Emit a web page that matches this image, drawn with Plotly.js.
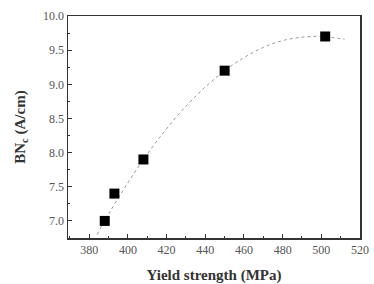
<!DOCTYPE html>
<html><head><meta charset="utf-8">
<script src="https://cdn.plot.ly/plotly-3.0.1.min.js"></script>
<style>html,body{margin:0;padding:0;background:#fff}</style>
</head><body><div id="chart" style="width:374px;height:284px"></div>
<script>
const yieldStrength = [388, 393, 408, 450, 502];
const bnc = [7.0, 7.4, 7.9, 9.2, 9.7];
const fitX = [384, 390, 400, 410, 420, 430, 440, 450, 460, 470, 480, 490, 500, 512];
const fitY = [6.80, 7.10, 7.56, 7.98, 8.35, 8.68, 8.96, 9.20, 9.39, 9.54, 9.64, 9.69, 9.70, 9.66];
const xTicks = [380, 400, 420, 440, 460, 480, 500, 520];
const yTicks = [7.0, 7.5, 8.0, 8.5, 9.0, 9.5, 10.0];

const traces = [
  {x: fitX, y: fitY, mode: 'lines', line: {color: '#999', width: 1, dash: 'dot', shape: 'spline'}, hoverinfo: 'skip'},
  {x: yieldStrength, y: bnc, mode: 'markers', marker: {symbol: 'square', size: 10, color: '#000'}}
];
const axisCommon = {
  showgrid: false, zeroline: false, showline: true, mirror: true,
  linecolor: '#333', linewidth: 1.5, ticks: 'inside', ticklen: 4, tickcolor: '#333',
  tickfont: {family: 'Liberation Serif, serif', size: 12, color: '#555'}
};
const layout = {
  width: 374, height: 284, showlegend: false,
  margin: {l: 68, r: 14, t: 16, b: 46},
  paper_bgcolor: '#fff', plot_bgcolor: '#fff',
  xaxis: Object.assign({}, axisCommon, {
    range: [369, 520], tickvals: xTicks, ticktext: xTicks.map(String),
    minor: {dtick: 10, ticks: 'inside', ticklen: 2, tickcolor: '#333'},
    title: {text: 'Yield strength (MPa)', font: {family: 'Liberation Serif, serif', size: 15, color: '#333', weight: 'bold'}, standoff: 13}
  }),
  yaxis: Object.assign({}, axisCommon, {
    range: [6.75, 10.0], tickvals: yTicks, ticktext: yTicks.map(v => v.toFixed(1)),
    minor: {dtick: 0.25, ticks: 'inside', ticklen: 2, tickcolor: '#333'},
    title: {text: 'BN<sub>c</sub> (A/cm)', font: {family: 'Liberation Serif, serif', size: 15, color: '#333', weight: 'bold'}, standoff: 14}
  })
};
Plotly.newPlot('chart', traces, layout, {displayModeBar: false, staticPlot: true});
</script></body></html>
